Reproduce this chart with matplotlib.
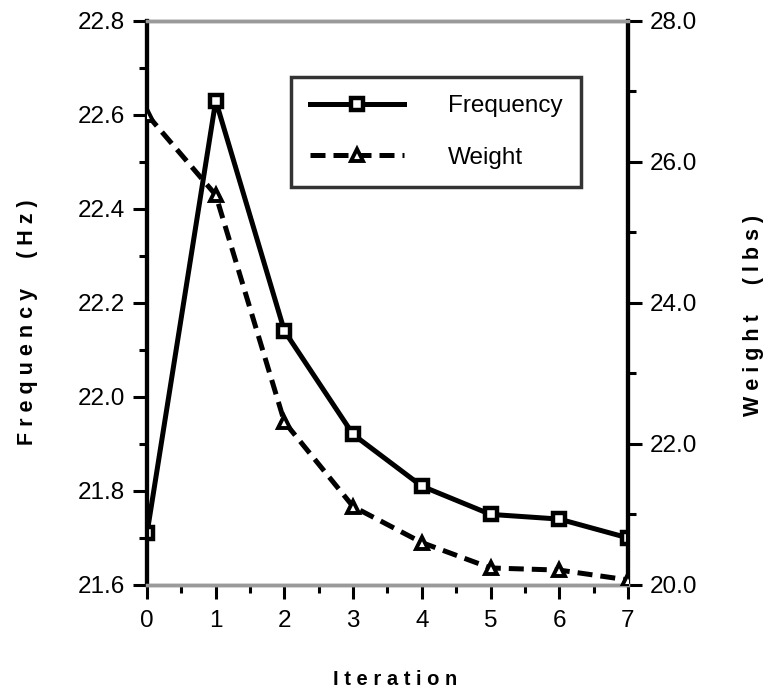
#Frequency and weight against iteration, two y axes
import matplotlib.pyplot as plt
import numpy as np
from matplotlib.ticker import MultipleLocator

iteration = [0, 1, 2, 3, 4, 5, 6, 7]
frequency = [21.71, 22.63, 22.14, 21.92, 21.81, 21.75, 21.74, 21.70]
weight = [26.67, 25.53, 22.31, 21.11, 20.60, 20.24, 20.21, 20.07]

plt.rcParams['font.family'] = ['Liberation Sans', 'DejaVu Sans']

fig = plt.figure(figsize=(7.67, 6.93), dpi=100)
ax = fig.add_axes([0.1917, 0.156, 0.627, 0.814])
ax2 = ax.twinx()

l1, = ax.plot(iteration, frequency, c="black", lw=3.6, marker="s", ms=8,
              mfc="white", mec="black", mew=3.2, label="Frequency", zorder=3)
l2, = ax2.plot(iteration, weight, c="black", lw=3.6, ls=(0, (3, 1.6)), marker="^",
               ms=8, mfc="white", mec="black", mew=2.8, label="Weight", zorder=3)

ax.set_xlim(0, 7)
ax.set_ylim(21.6, 22.8)
ax2.set_ylim(20.0, 28.0)

ax.xaxis.set_major_locator(MultipleLocator(1))
ax.xaxis.set_minor_locator(MultipleLocator(0.5))
ax.yaxis.set_major_locator(MultipleLocator(0.2))
ax.yaxis.set_minor_locator(MultipleLocator(0.1))
ax2.yaxis.set_major_locator(MultipleLocator(2))
ax2.yaxis.set_minor_locator(MultipleLocator(1))
ax.yaxis.set_major_formatter("{x:.1f}")
ax2.yaxis.set_major_formatter("{x:.1f}")

for a in (ax, ax2):
    a.tick_params(which="major", direction="out", length=10, width=2.2,
                  labelsize=17.5, pad=6)
    a.tick_params(which="minor", direction="out", length=6, width=2.2)
    for side in ("top", "bottom"):
        a.spines[side].set_color("#9a9a9a")
        a.spines[side].set_linewidth(2.5)
    a.spines["left"].set_linewidth(3)
    a.spines["right"].set_linewidth(3)
ax.tick_params(axis="x", pad=8)

#axis titles placed on the figure so they stay inside the picture
fig.text(0.515, 0.011, "I t e r a t i o n", fontsize=14.5, fontweight="bold",
         ha="center", va="baseline")
fig.text(0.036, 0.535, "F r e q u e n c y     ( H z )", fontsize=15.5, fontweight="bold",
         rotation=90, ha="center", va="center")
fig.text(0.982, 0.545, "W e i g h t     ( l b s )", fontsize=15.5, fontweight="bold",
         rotation=90, ha="center", va="center")

leg = ax.legend([l1, l2], ["Frequency", "Weight"], loc="upper left",
                bbox_to_anchor=(0.30, 0.90), fontsize=17.5, frameon=True,
                fancybox=False, handlelength=3.9, handletextpad=1.8,
                borderpad=0.75, labelspacing=1.2, borderaxespad=0)
leg.get_frame().set_edgecolor("black")
leg.get_frame().set_linewidth(2.5)
leg.set_zorder(5)

plt.savefig("out.png", dpi=100)
